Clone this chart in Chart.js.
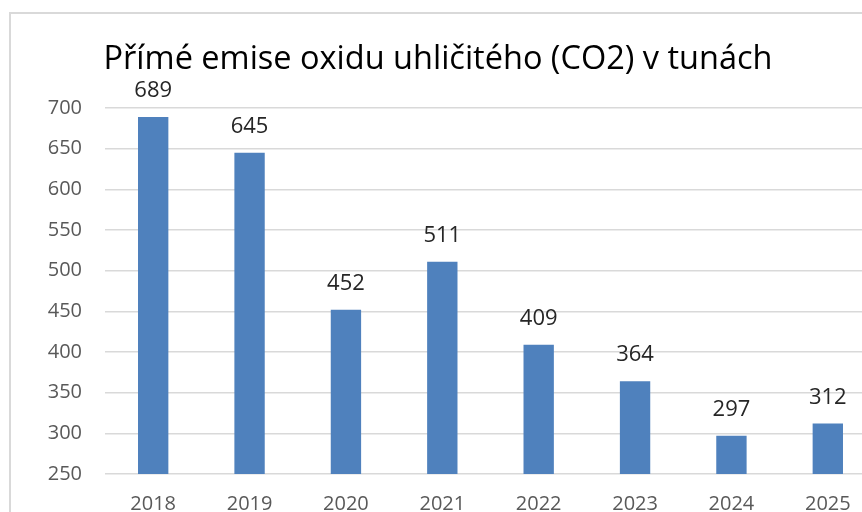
<!DOCTYPE html>
<html><head><meta charset="utf-8">
<script src="https://cdn.jsdelivr.net/npm/chart.js@4/dist/chart.umd.min.js"></script>
<style>
html,body{margin:0;padding:0;background:#fff;overflow:hidden;width:862px;height:512px;}
#frame{position:absolute;left:9px;top:12px;width:900px;height:560px;border-top:2px solid #d9d9d9;border-left:2px solid #d9d9d9;box-sizing:border-box;}
#wrap{position:absolute;left:0;top:0;width:890px;height:540px;}
</style></head>
<body>
<div id="frame"></div>
<div id="wrap"><canvas id="c" width="890" height="540"></canvas></div>
<script>
const categories = ['2018','2019','2020','2021','2022','2023','2024','2025'];
const emissions = [689, 645, 452, 511, 409, 364, 297, 312];
const yTicks = [250, 300, 350, 400, 450, 500, 550, 600, 650, 700];
const titleText = 'Přímé emise oxidu uhličitého (CO2) v tunách';

const FONT = '"Open Sans", Lato, sans-serif';

const labelPlugin = {
  id: 'valueLabels',
  afterDatasetsDraw(chart) {
    const ctx = chart.ctx;
    const meta = chart.getDatasetMeta(0);
    ctx.save();
    ctx.font = '22px ' + FONT;
    ctx.fillStyle = '#262626';
    ctx.textAlign = 'center';
    ctx.textBaseline = 'alphabetic';
    meta.data.forEach((bar, i) => {
      ctx.fillText(String(chart.data.datasets[0].data[i]), bar.x, bar.y - 20);
    });
    ctx.restore();
  }
};

new Chart(document.getElementById('c'), {
  type: 'bar',
  data: {
    labels: categories,
    datasets: [{
      data: emissions,
      backgroundColor: '#4f81bd',
      borderWidth: 0,
      barPercentage: 1,
      categoryPercentage: 0.315
    }]
  },
  options: {
    responsive: false,
    animation: false,
    devicePixelRatio: 1,
    layout: { padding: { left: 0, right: 14, top: 0, bottom: 6 } },
    plugins: {
      legend: { display: false },
      tooltip: { enabled: false },
      title: {
        display: true,
        text: titleText,
        color: '#000000',
        font: { family: FONT, size: 32.5, weight: 'normal' },
        padding: { top: 40, bottom: 29 }
      }
    },
    scales: {
      x: {
        grid: { display: false, drawTicks: false },
        border: { display: false },
        ticks: { color: '#595959', font: { family: FONT, size: 20 }, padding: 18 }
      },
      y: {
        min: 250, max: 700,
        afterFit(scale) { scale.width = 105; },
        afterBuildTicks(scale) { scale.ticks = yTicks.map(v => ({ value: v })); },
        grid: { color: '#d9d9d9', lineWidth: 1.5, drawTicks: false },
        border: { display: false },
        ticks: { color: '#595959', font: { family: FONT, size: 20 }, padding: 23 }
      }
    }
  },
  plugins: [labelPlugin]
});
</script>
</body></html>
